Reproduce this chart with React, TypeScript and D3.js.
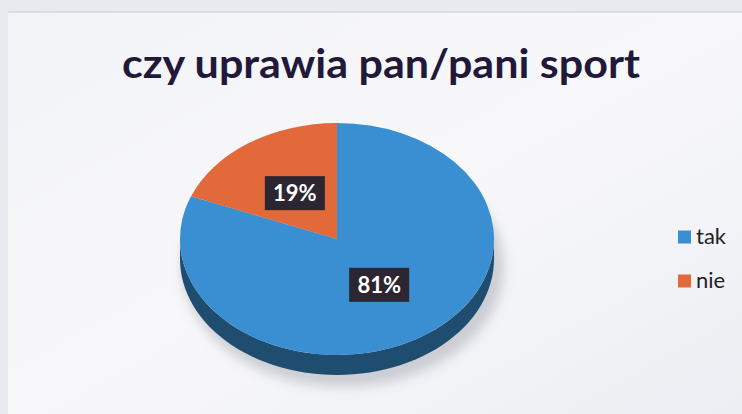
import React from "react";
import * as d3 from "d3";

const title = "czy uprawia pan/pani sport";
const categories = ["tak", "nie"];
const values = [81, 19];
const colors = ["#3a8fd3", "#e2693a"];
const sideColors = ["#1f4d70", "#8a3a1c"];

const W = 742;
const H = 414;

export default function App() {
  const cx = 337;
  const cy = 239;
  const rx = 157;
  const ry = 116;
  const depth = 20;
  const k = ry / rx;

  const pie = d3.pie<number>().sort(null).value((d) => d);
  const arcs = pie(values);
  const arc = d3.arc<d3.PieArcDatum<number>>().innerRadius(0).outerRadius(rx);
  const labelArc = d3.arc<d3.PieArcDatum<number>>().innerRadius(0).outerRadius(150);
  const total = d3.sum(values);

  const sidePaths = arcs.map((a, i) => {
    const s = Math.max(a.startAngle, Math.PI / 2);
    const e = Math.min(a.endAngle, (3 * Math.PI) / 2);
    if (e <= s) return null;
    const n = 60;
    const pts: [number, number][] = [];
    for (let j = 0; j <= n; j++) {
      const t = s + ((e - s) * j) / n;
      pts.push([cx + rx * Math.sin(t), cy - ry * Math.cos(t)]);
    }
    for (let j = n; j >= 0; j--) {
      const t = s + ((e - s) * j) / n;
      pts.push([cx + rx * Math.sin(t), cy - ry * Math.cos(t) + depth]);
    }
    return { d: d3.line()(pts) + "Z", color: sideColors[i] };
  });

  const legendY = d3.scalePoint<string>().domain(categories).range([237, 281]);

  return (
    <svg width={W} height={H} style={{ position: "absolute", left: 0, top: 0 }}>
      <defs>
        <filter id="blur" x="-30%" y="-30%" width="160%" height="160%">
          <feGaussianBlur stdDeviation="6" />
        </filter>
        <linearGradient id="bg" x1="0" y1="0" x2="1" y2="1">
          <stop offset="0" stopColor="#f2f3f7" />
          <stop offset="0.5" stopColor="#f8f8fa" />
          <stop offset="1" stopColor="#eceef3" />
        </linearGradient>
      </defs>
      <rect x={0} y={0} width={W} height={H} fill="#e8eaf0" />
      <rect x={8} y={12} width={W - 8} height={H - 12} fill="url(#bg)" />
      <line x1={8} y1={12} x2={W} y2={12} stroke="#c9ccd6" strokeWidth={1} />
      <text
        x={381}
        y={78}
        textAnchor="middle"
        fontFamily="Lato, 'Open Sans', sans-serif"
        fontWeight="bold"
        fontSize={40}
        fill="#22193a"
        textLength={518}
        lengthAdjust="spacingAndGlyphs"
      >
        {title}
      </text>
      <ellipse cx={cx + 6} cy={cy + depth + 8} rx={rx + 4} ry={ry + 4} fill="#9a9ea8" opacity={0.45} filter="url(#blur)" />
      {sidePaths.map((p, i) => (p ? <path key={"s" + i} d={p.d} fill={p.color} /> : null))}
      <g transform={`translate(${cx},${cy}) scale(1,${k})`}>
        {arcs.map((a, i) => (
          <path key={i} d={arc(a) || ""} fill={colors[i]} />
        ))}
      </g>
      {arcs.map((a, i) => {
        const [lx, ly] = labelArc.centroid(a);
        const x = cx + lx;
        const y = cy + ly * k;
        const txt = Math.round((a.value / total) * 100) + "%";
        return (
          <g key={"l" + i}>
            <rect x={x - 30} y={y - 17} width={60} height={34} fill="#2b2631" />
            <text
              x={x}
              y={y + 8}
              textAnchor="middle"
              fontFamily="Lato, 'Open Sans', sans-serif"
              fontWeight="bold"
              fontSize={22}
              fill="#ffffff"
            >
              {txt}
            </text>
          </g>
        );
      })}
      {categories.map((c, i) => (
        <g key={"lg" + i}>
          <rect x={678} y={(legendY(c) || 0) - 6.5} width={13} height={13} fill={colors[i]} />
          <text
            x={696}
            y={(legendY(c) || 0) + 7}
            fontFamily="Lato, 'Open Sans', sans-serif"
            fontSize={22}
            fill="#222"
          >
            {c}
          </text>
        </g>
      ))}
    </svg>
  );
}
